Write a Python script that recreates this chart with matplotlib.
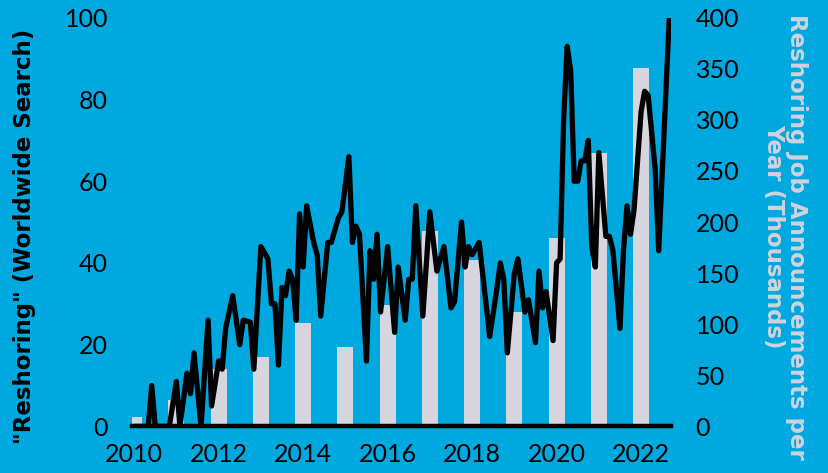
import numpy as np
import matplotlib
matplotlib.use("Agg")
import matplotlib.pyplot as plt

# yearly reshoring job announcements (thousands)
bar_years = [2010, 2011, 2012, 2013, 2014, 2015, 2016, 2017, 2018, 2019, 2020, 2021, 2022]
bar_jobs = [9, 26, 56, 68, 101, 78, 119, 191, 163, 112, 184, 268, 351]

# google search interest, months counted from Jan 2010
search_month = [0, 4, 5, 6, 10, 12, 13, 15, 16, 17, 19, 21, 22, 24, 25, 26, 28,
                30, 31, 33, 34, 36, 38, 39, 40, 41, 42, 43, 44, 45, 46, 47, 48, 49,
                51, 52, 53, 55, 56, 58, 59, 61, 62, 63, 64, 66, 67, 68, 69, 70,
                72, 74, 75, 77, 78, 79, 80, 82, 84, 86, 88, 90, 91, 93, 94, 95, 96,
                98, 101, 103, 104, 105, 106, 108, 109, 111, 112, 114, 115, 116, 117,
                119, 120, 121, 122, 123, 124, 125, 126, 127, 128, 129, 130, 131, 132,
                134, 135, 136, 138, 139, 140, 141, 142, 144, 145, 146, 148, 149, 152]
search_value = [0, 0, 10, 0, 0, 11, 0, 13, 8, 18, 0, 26, 5, 16, 14, 24, 32,
                20, 26, 25.5, 14, 44, 41, 30, 30, 15, 34, 32, 38, 36, 26, 52, 39, 54,
                45, 42, 27, 45, 45, 51, 52.5, 66, 45, 49, 47, 16, 43, 36, 47, 28,
                44, 23, 39, 26, 36, 36, 54, 27, 52.5, 38, 44, 29, 30.5, 50, 39, 44, 42,
                45, 22, 33.5, 40, 36, 18, 37.5, 41, 28, 31, 20.5, 38, 29, 33,
                21, 40, 41, 75, 93, 87, 60, 60, 65, 65, 70, 44, 39, 67,
                46.5, 46.5, 43, 24, 43, 54, 47, 53, 77, 82, 81, 63, 43, 100]

bg = "#00A8E0"
bar_color = "#D7D5DE"

fig = plt.figure(figsize=(8.29, 4.73), dpi=100, facecolor=bg)
ax = fig.add_axes([0.159, 0.0985, 0.65, 0.864])
ax2 = ax.twinx()
ax.set_zorder(ax2.get_zorder() + 1)
ax.patch.set_visible(False)
ax2.patch.set_visible(False)

ax2.bar(bar_years, bar_jobs, width=0.38, color=bar_color, zorder=1)

t = 2010 + np.array(search_month) / 12.0
ax.plot(t, search_value, color="black", lw=3.8, solid_joinstyle="round",
        solid_capstyle="butt", zorder=3)

ax.set_xlim(2009.945, 2022.70)
ax.set_ylim(0, 100)
ax2.set_ylim(0, 400)
ax.set_xticks(range(2010, 2023, 2))
ax.set_yticks(range(0, 101, 20))
ax2.set_yticks(range(0, 401, 50))

for a in (ax, ax2):
    for s in a.spines.values():
        s.set_visible(False)
ax.spines["bottom"].set_visible(True)
ax.spines["bottom"].set_linewidth(3.2)
ax.spines["bottom"].set_color("black")

tick_font = "Lato"
ax.tick_params(axis="both", length=0, labelsize=18, labelcolor="black")
ax.tick_params(axis="x", pad=12)
ax.tick_params(axis="y", pad=17)
ax2.tick_params(axis="y", length=0, labelsize=18, labelcolor="black", pad=18)
for lab in ax.get_xticklabels() + ax.get_yticklabels() + ax2.get_yticklabels():
    lab.set_fontfamily(tick_font)

fig.text(0.030, 0.501, "\"Reshoring\" (Worldwide Search)", rotation=90,
         ha="center", va="center", fontsize=16.5, fontweight="bold",
         family="DejaVu Sans", color="black")
fig.text(0.947, 0.50, "Reshoring Job Announcements per\nYear (Thousands)",
         rotation=270, ha="center", va="center", multialignment="center",
         fontsize=16.5, fontweight="bold", family="DejaVu Sans",
         color="#D3D2DD", linespacing=0.95)

fig.savefig("out.png", dpi=100, facecolor=bg)
